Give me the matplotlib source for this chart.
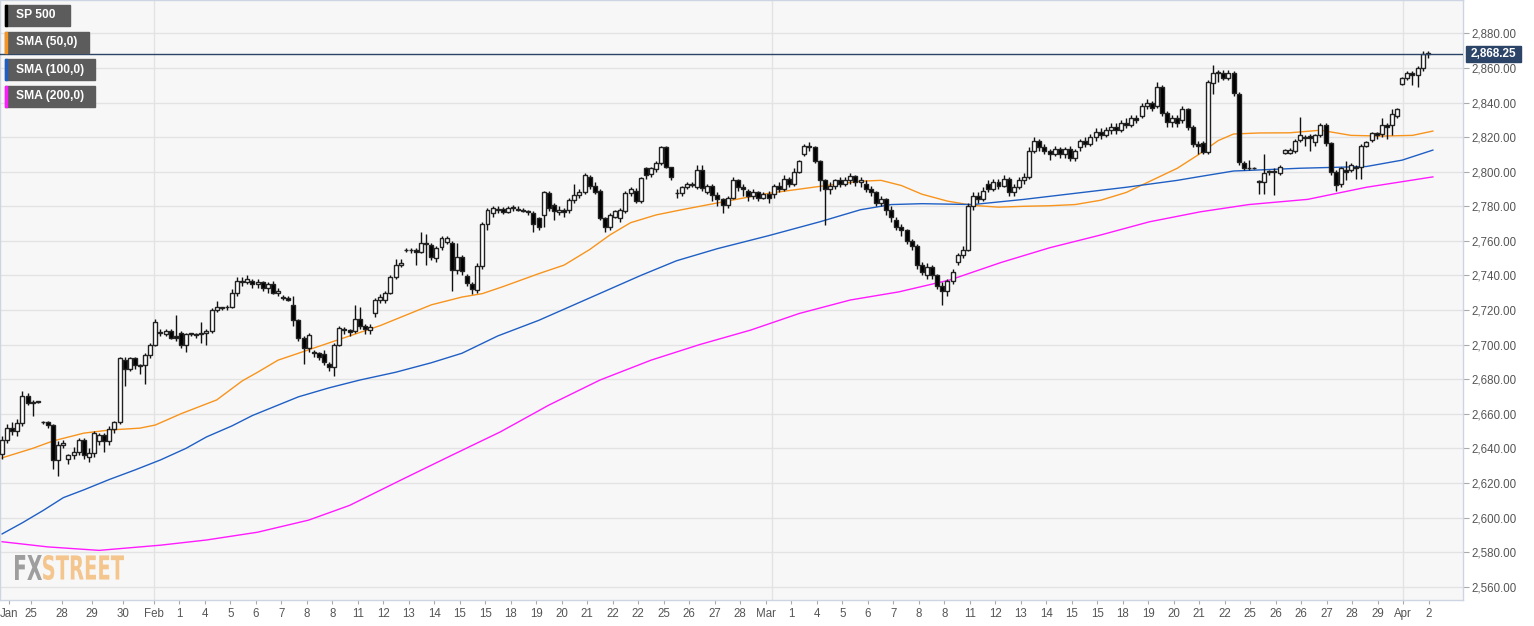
import matplotlib
matplotlib.use("Agg")
import matplotlib.pyplot as plt
from matplotlib.patches import Rectangle, PathPatch
from matplotlib.textpath import TextPath
from matplotlib.font_manager import FontProperties
from matplotlib.transforms import Affine2D, IdentityTransform
from matplotlib.ticker import FuncFormatter

plt.rcParams["font.family"] = ["Liberation Sans", "DejaVu Sans"]

# hourly candles, Jan 24 - Apr 2
opens = [2637, 2645, 2652, 2650, 2654.5, 2670, 2666.5, 2667, 2655.5, 2655, 2653.5, 2633,
         2642, 2634, 2636, 2638, 2645, 2635, 2637.5, 2644, 2648, 2644, 2651, 2655,
         2691, 2686, 2692, 2688, 2688, 2694, 2700, 2707.5, 2706, 2708, 2705, 2707,
         2700, 2706, 2706, 2706, 2707, 2708, 2720, 2721, 2721.5, 2722, 2730, 2737,
         2736, 2737, 2735, 2736, 2733, 2735, 2730, 2727.5, 2727, 2723, 2714, 2704,
         2698, 2695.5, 2695, 2694.5, 2689, 2687, 2700, 2709, 2708.5, 2708, 2715, 2711,
         2708.5, 2718.5, 2726, 2726, 2730, 2739, 2746, 2754.5, 2755, 2755, 2753.6, 2759,
         2757.6, 2750, 2756.6, 2759.5, 2758.7, 2743, 2750.8, 2739.8, 2735, 2731.7, 2745.5, 2770,
         2776, 2778, 2778.5, 2776.5, 2779, 2778.5, 2778, 2777, 2776, 2773, 2775, 2787.7,
         2781, 2776.5, 2778, 2777.8, 2783.6, 2786.5, 2788, 2797, 2792, 2789, 2773, 2768,
         2774, 2773, 2777.3, 2787.7, 2789, 2783, 2802, 2798.5, 2801.6, 2805, 2814, 2802.6,
         2787.8, 2787.6, 2791, 2793, 2791, 2801, 2788, 2792,
         2786.5, 2784, 2781, 2785, 2795, 2791, 2789, 2786, 2788, 2785, 2787,
         2787, 2792, 2790, 2796, 2793, 2800, 2810, 2815, 2814, 2806, 2795, 2790,
         2792, 2795, 2793, 2795, 2797.5, 2794, 2793, 2790, 2788, 2782, 2784, 2778,
         2772, 2768, 2766, 2760, 2757, 2746, 2740, 2745, 2740, 2734, 2731, 2737,
         2748, 2752, 2755, 2780, 2786, 2784, 2793, 2790, 2794, 2792, 2796, 2788,
         2791, 2795, 2797, 2812, 2818, 2814, 2812, 2810, 2813, 2810, 2813, 2808,
         2814, 2818, 2816, 2820, 2823, 2821, 2824, 2826, 2824, 2828, 2827, 2831,
         2832, 2838, 2840, 2838, 2849, 2834, 2829, 2831, 2830, 2836, 2826, 2816,
         2816.5, 2811.5, 2851.5, 2857, 2857, 2854, 2857, 2845, 2805, 2802, 2802, 2794.5,
         2794, 2800, 2800.5, 2799, 2811, 2811, 2812, 2818.5, 2820, 2820.5, 2817, 2821,
         2827, 2816.5, 2800, 2793, 2801, 2801, 2802, 2803, 2815, 2818.5, 2822.5, 2822,
         2827, 2827, 2832, 2851, 2854, 2857, 2856, 2860, 2868]
highs = [2647, 2654, 2655, 2657, 2673, 2672, 2668, 2667.5, 2656, 2656, 2654, 2644,
         2645, 2637, 2641, 2646, 2646, 2640, 2650, 2649, 2649, 2653, 2656, 2693,
         2693, 2693, 2693, 2689, 2695, 2701, 2715, 2709, 2709, 2709, 2717, 2708,
         2707, 2707, 2707, 2713, 2709, 2721, 2725, 2722, 2723, 2732, 2739, 2739,
         2740, 2738, 2738, 2737, 2736, 2737, 2733, 2728.5, 2728, 2728, 2715, 2705,
         2707, 2697, 2696, 2697, 2690, 2701, 2711, 2710, 2709, 2723, 2722, 2712,
         2712, 2727, 2729, 2731, 2740, 2749.5, 2749.5, 2756, 2756, 2756, 2765, 2764,
         2759, 2757, 2763, 2763, 2760, 2759, 2752, 2741, 2736, 2747, 2771, 2779,
         2780, 2780, 2779.5, 2780, 2781, 2780, 2779, 2778, 2777, 2774, 2789, 2789,
         2782, 2780, 2779, 2785, 2793, 2790, 2799, 2798, 2794, 2790, 2774, 2776,
         2778, 2779, 2789, 2791, 2790.5, 2797, 2803, 2803, 2806, 2815, 2815, 2803,
         2790, 2792, 2794, 2794, 2804, 2804, 2793, 2793,
         2788, 2785, 2786, 2797, 2796, 2793, 2790, 2790, 2789, 2788, 2789,
         2793, 2794, 2798, 2797, 2802, 2807, 2816, 2817, 2815, 2807, 2796, 2794,
         2796, 2797, 2797, 2799, 2798, 2797, 2795, 2792, 2789, 2786, 2785, 2780,
         2774, 2770, 2767, 2761, 2758, 2748, 2747, 2746, 2741, 2736, 2738, 2744,
         2753, 2757, 2782, 2788, 2788, 2791, 2795, 2796, 2796, 2798, 2797, 2793,
         2797, 2799, 2814, 2820, 2819, 2816, 2813, 2815, 2814, 2814, 2815, 2813,
         2819, 2820, 2822, 2825, 2825, 2826, 2828, 2828, 2830, 2831, 2833, 2833,
         2840, 2842, 2841, 2852, 2850, 2835, 2833, 2833, 2838, 2837, 2827, 2818,
         2818, 2853, 2861.7, 2859, 2859, 2859, 2858, 2846, 2806, 2807, 2802.5, 2795,
         2810, 2801, 2802, 2804, 2813, 2813.5, 2819, 2831.6, 2821, 2822, 2822, 2828,
         2828, 2817, 2801, 2803, 2806, 2805, 2804, 2816, 2818, 2823, 2823, 2831,
         2828, 2836, 2837, 2855, 2858, 2858, 2861, 2870, 2870]
lows = [2634, 2643, 2648, 2647, 2653, 2665, 2659, 2666.5, 2654, 2652, 2628, 2624,
        2640, 2631, 2634, 2636, 2634, 2632, 2635, 2642, 2638, 2642, 2649, 2654,
        2676, 2685, 2686, 2683, 2677, 2692, 2699, 2705, 2705, 2703, 2702, 2698,
        2696, 2705, 2704, 2701, 2700, 2707, 2719, 2720, 2720, 2721, 2728, 2734,
        2735, 2733, 2733, 2731, 2730, 2729, 2728, 2726, 2725, 2711, 2702, 2689,
        2696, 2693, 2691, 2688, 2685, 2682, 2699, 2706, 2705, 2707, 2709, 2706,
        2706, 2716, 2724, 2724, 2729, 2738, 2745, 2753.5, 2753, 2746, 2753, 2746,
        2749, 2748, 2755, 2758, 2731, 2741, 2740, 2734, 2729, 2730, 2744, 2766,
        2774, 2776, 2775.5, 2776, 2777.5, 2777, 2776.5, 2775, 2765, 2766, 2768, 2777,
        2772, 2775, 2774, 2776, 2782, 2785, 2787, 2790, 2787, 2772, 2765, 2766,
        2773, 2771, 2776, 2786, 2782, 2782, 2796, 2797, 2800, 2804, 2802, 2795,
        2785, 2786, 2790, 2791, 2790, 2789, 2787, 2783,
        2780, 2776, 2779, 2784, 2789, 2786, 2783, 2784, 2783, 2784, 2782,
        2785, 2788, 2789, 2791, 2792, 2799, 2809, 2812, 2805, 2789, 2769, 2787,
        2790, 2791, 2792, 2793, 2792, 2791, 2788, 2786, 2780, 2780, 2775, 2771,
        2766, 2763, 2758, 2755, 2744, 2740, 2738, 2738, 2732, 2723, 2728, 2735,
        2746, 2750, 2754, 2778, 2782, 2783, 2788, 2789, 2790, 2791, 2786, 2786,
        2790, 2793, 2796, 2811, 2812, 2810, 2807, 2809, 2808, 2808, 2806, 2806,
        2812, 2814, 2815, 2818, 2819, 2820, 2822, 2822, 2823, 2825, 2826, 2828,
        2831, 2836, 2835, 2837, 2832, 2826, 2826, 2826, 2828, 2824, 2814, 2810,
        2810, 2810, 2845, 2852, 2853, 2853, 2844, 2804, 2801, 2801, 2801.5, 2787,
        2787, 2798, 2786.5, 2798, 2810, 2810, 2811, 2817, 2815, 2812, 2815, 2820,
        2815, 2798, 2789, 2791, 2795, 2800, 2796, 2796, 2814, 2817, 2819, 2820,
        2819, 2821, 2831, 2850, 2853, 2850, 2849, 2858, 2866]
closes = [2645, 2652, 2650, 2654.5, 2670, 2666.5, 2667, 2667, 2655, 2653.5, 2633, 2642,
          2643, 2636, 2638, 2645, 2636, 2637.5, 2649, 2648, 2644, 2651, 2655, 2692,
          2686, 2692, 2688, 2687.5, 2694, 2700, 2713, 2707, 2708, 2704, 2704, 2700,
          2706, 2706.5, 2705.5, 2707, 2708, 2720, 2722, 2721.5, 2722, 2730, 2737, 2736,
          2738, 2735, 2736, 2733, 2735, 2730, 2731, 2727, 2726, 2714, 2704, 2698,
          2705.6, 2695, 2693, 2690, 2687, 2700, 2709.6, 2708.5, 2707.5, 2715, 2711, 2709,
          2710, 2726, 2727.5, 2730, 2739, 2746, 2747, 2755, 2754.5, 2753.5, 2759, 2758,
          2750.8, 2755.6, 2761.6, 2761.5, 2743, 2750.8, 2742.4, 2735.6, 2732, 2745.5, 2770, 2777.8,
          2779, 2778.5, 2776.5, 2779, 2779, 2778, 2777.5, 2776.5, 2770, 2768, 2788, 2779,
          2777, 2778, 2776.5, 2783.6, 2786.5, 2788, 2798, 2792, 2788, 2773, 2768, 2775,
          2777, 2778, 2787.7, 2790, 2783, 2796.4, 2798, 2802, 2805, 2814, 2803, 2797,
          2787.4, 2791, 2793, 2792.5, 2801, 2790.4, 2792, 2786.5,
          2784, 2781, 2785, 2795, 2791, 2790, 2786, 2788, 2785, 2787, 2785,
          2792, 2790, 2796, 2793, 2800, 2806, 2815, 2814, 2806, 2795, 2790, 2792,
          2795, 2793, 2795, 2797.5, 2794, 2795, 2790, 2788, 2782, 2784, 2778, 2774,
          2768, 2766, 2760, 2757, 2746, 2742, 2745, 2740, 2734, 2731, 2737, 2742,
          2752, 2755, 2780, 2786, 2784, 2789, 2790, 2794, 2792, 2796, 2788, 2791,
          2795, 2797, 2812, 2818, 2814, 2812, 2810, 2813, 2810, 2813, 2808, 2812,
          2818, 2816, 2820, 2823, 2821, 2824, 2826, 2824, 2828, 2827, 2831, 2830,
          2838, 2840, 2837, 2849, 2834, 2829, 2831, 2828, 2836, 2826, 2816, 2815,
          2811.5, 2852, 2857, 2857.5, 2854, 2857, 2845.6, 2805.6, 2802, 2802, 2802, 2794,
          2799, 2800.5, 2800, 2803, 2812.5, 2812.5, 2818, 2821, 2819.5, 2819.5, 2821, 2827,
          2816.5, 2800, 2792.2, 2802, 2800, 2803.8, 2803, 2815, 2817, 2822.5, 2821.5, 2827,
          2826, 2833.5, 2836, 2854, 2857, 2856, 2860, 2868, 2868.25]

# moving averages at the given bar positions
sma50_bars = [0, 6, 10, 16, 21, 27, 30, 35, 42, 47, 50, 54, 58, 64, 74, 84, 90, 94, 98,
              105, 110, 115, 119, 123, 128, 133, 141, 150, 160, 168, 172, 176, 180, 185,
              190, 195, 200, 205, 210, 215, 220, 225, 230, 234, 238, 241, 246, 252, 258,
              264, 270, 276, 280]
sma50 = [2634.5, 2640, 2644.3, 2648.8, 2650.6, 2651.7, 2653.5, 2660, 2668, 2679, 2684,
         2691, 2695, 2701, 2711, 2723, 2727.5, 2729.5, 2733.5, 2741, 2746, 2755, 2763.5,
         2770.5, 2775, 2778, 2782.5, 2787.5, 2791.5, 2794.5, 2795, 2792, 2787, 2783,
         2780.5, 2779.5, 2780, 2780.3, 2781, 2783.5, 2788, 2795, 2802, 2809.6, 2818,
         2821.8, 2822.4, 2822.5, 2824, 2821, 2820.6, 2821, 2823.5]
sma100_bars = [0, 4, 8, 12, 16, 21, 26, 31, 36, 40, 45, 49, 54, 58, 64, 70, 77, 84, 90,
               97, 105, 115, 125, 132, 140, 150, 160, 168, 174, 180, 190, 200, 210, 220,
               230, 234, 241, 254, 267, 274, 280]
sma100 = [2590.5, 2597, 2604, 2611.5, 2616, 2622, 2627.5, 2633.3, 2640, 2646.6, 2653,
          2659, 2665, 2669.8, 2675, 2679.5, 2684, 2689.5, 2695, 2705, 2714, 2727, 2740,
          2748.5, 2755.5, 2763, 2771, 2778, 2781, 2781.5, 2781, 2784, 2787.5, 2791, 2795,
          2797, 2800.4, 2802, 2803, 2806.7, 2812.5]
sma200_bars = [0, 9, 19, 31, 40, 50, 60, 68, 78, 88, 97.5, 107, 117, 127, 136.5, 146.5,
               156, 166, 175.5, 185.5, 195.5, 205, 215, 224.5, 234.5, 244, 255.5, 267, 280]
sma200 = [2586, 2583, 2581, 2584, 2587, 2591.5, 2598.5, 2607, 2621.6, 2636, 2649.5, 2665,
          2679.5, 2691, 2700, 2708.4, 2718, 2725.8, 2730.5, 2737.4, 2747.5, 2756, 2763.4,
          2771, 2776.8, 2781, 2784, 2791, 2797]

last_price = 2868.25

tick_labels = ["Jan", "25", "28", "29", "30", "Feb", "1", "4", "5", "6", "7", "8", "8", "11",
               "12", "13", "14", "15", "15", "18", "19", "20", "21", "22", "22", "25", "26",
               "27", "28", "Mar", "1", "4", "5", "6", "7", "8", "8", "11", "12", "13", "14",
               "15", "15", "18", "19", "20", "21", "22", "25", "26", "26", "27", "28", "29",
               "Apr", "2"]
tick_pos = [1.4, 5.7, 11.7, 17.6, 23.7] + [29.7 + 4.99 * k for k in range(51)]
month_pos = [29.7, 150.7, 274.2]

legend_items = [("SP 500", "#000000"), ("SMA (50,0)", "#f7941d"),
                ("SMA (100,0)", "#1f5fc4"), ("SMA (200,0)", "#ff1aff")]

W, H = 1534, 626
fig = plt.figure(figsize=(W / 100, H / 100), dpi=100)
fig.patch.set_facecolor("white")
ax = fig.add_axes([0, 26 / H, 1463 / W, 600 / H])
ax.set_facecolor("#f7f7f7")

n = len(closes)
xs = list(range(n))

# grid
for m in month_pos:
    ax.axvline(m, color="#e3e3e3", lw=1, zorder=0)
ax.set_yticks(range(2560, 2881, 20))
ax.grid(axis="y", color="#e3e3e3", lw=1, zorder=0)
ax.set_axisbelow(True)

# moving averages
ax.plot(sma50_bars, sma50, color="#f7941d", lw=1.0, zorder=2)
ax.plot(sma100_bars, sma100, color="#1f5fc4", lw=1.0, zorder=2)
ax.plot(sma200_bars, sma200, color="#ff1aff", lw=1.0, zorder=2)

# candles
ax.vlines(xs, lows, highs, colors="#111111", lw=1.0, zorder=3)
bottoms = [min(o, c) for o, c in zip(opens, closes)]
heights = [max(abs(c - o), 0.4) for o, c in zip(opens, closes)]
faces = ["white" if c >= o else "black" for o, c in zip(opens, closes)]
ax.bar(xs, heights, bottom=bottoms, width=0.78, color=faces,
       edgecolor="#222222", linewidth=1.0, zorder=4)

# last price line
ax.axhline(last_price, color="#2b4468", lw=1, zorder=5)

ax.set_xlim(-0.4, 285.9)
ax.set_ylim(2552.3, 2899.3)

ax.yaxis.tick_right()
ax.yaxis.set_major_formatter(FuncFormatter(lambda v, p: f"{v:,.2f}"))
ax.tick_params(axis="y", which="both", right=True, left=False, length=4, width=0.8,
               color="#aaaaaa", labelcolor="#555555", labelsize=8.3, pad=2)
ax.set_xticks(tick_pos)
ax.set_xticklabels(tick_labels)
ax.tick_params(axis="x", length=3, width=0.8, color="#aaaaaa", labelcolor="#555555",
               labelsize=8.3, pad=3)
for s in ax.spines.values():
    s.set_color("#cdd4e2")
    s.set_linewidth(1)


def fx(px):
    return px / W


def fy(py):
    return 1 - py / H


# price tag
fig.patches.append(Rectangle((fx(1466), fy(62)), fx(1521) - fx(1466), 16 / H,
                             transform=fig.transFigure, color="#2b4468", zorder=10))
fig.text(fx(1493.5), fy(54), f"{last_price:,.2f}", color="white", fontsize=8.5,
         fontweight="bold", ha="center", va="center", zorder=11)

# legend boxes
box_w = [65, 84, 90, 90]
for k, (name, col) in enumerate(legend_items):
    top = 5 + 27 * k
    fig.patches.append(Rectangle((fx(5), fy(top + 21)), fx(5 + box_w[k]) - fx(5), 21 / H,
                                 transform=fig.transFigure, color="#5c5c5c", zorder=10))
    fig.patches.append(Rectangle((fx(5), fy(top + 21)), 2 / W, 21 / H,
                                 transform=fig.transFigure, color=col, zorder=11))
    fig.text(fx(16), fy(top + 10.5), name, color="white", fontsize=8.7, fontweight="bold",
             ha="left", va="center", zorder=12)

# FXSTREET watermark, condensed by scaling the glyph outlines
prop = FontProperties(family="DejaVu Sans", weight="bold")
base = H - 580
for word, left, right, col in [("FX", 15, 42, "#9e9e9e"), ("STREET", 43, 124, "#f4c58d")]:
    tp = TextPath((0, 0), word, size=34, prop=prop)
    ext = tp.get_extents()
    sx = (right - left) / ext.width
    sy = 25 / ext.height
    tr = Affine2D().translate(-ext.x0, -ext.y0).scale(sx, sy).translate(left, base)
    fig.add_artist(PathPatch(tp, transform=tr + IdentityTransform(), color=col,
                             lw=0, zorder=6))

fig.savefig("out.png", dpi=100)
